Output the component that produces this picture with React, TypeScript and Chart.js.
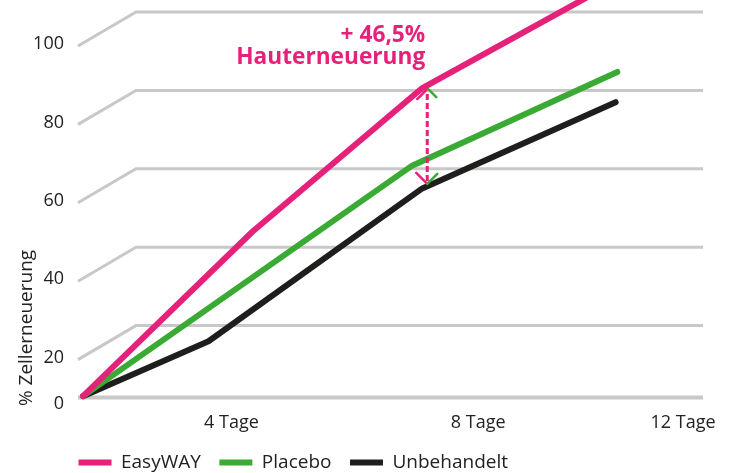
import React, { useEffect, useRef } from "react";
import { Chart, registerables } from "chart.js";

Chart.register(...registerables);

// ---- data ----
const seriesNames = ["EasyWAY", "Placebo", "Unbehandelt"];
const easyDays = [0, 4, 8, 12.6];
const easyValues = [2, 44, 80.6, 108];
const placeboDays = [0, 7.76, 12.6];
const placeboValues = [2, 60.8, 84.7];
const untreatedDays = [0, 2.96, 8, 12.56];
const untreatedValues = [2, 16, 55, 77];

const yTickValues = [0, 20, 40, 60, 80, 100];
const xTickLabels = ["4 Tage", "8 Tage", "12 Tage"];
const xTickDays = [3.5, 9.32, 14.15];
const yTitle = "% Zellerneuerung";
const annotationLines = ["+ 46,5%", "Hauterneuerung"];
const annotationDay = 8;

const PINK = "#e6217a";
const GREEN = "#3aaa35";
const BLACK = "#1e1e1c";
const GRID = "#c8c8c8";
const TEXT = "#222222";
const FONT = '"Open Sans", sans-serif';

const toPoints = (xs: number[], ys: number[]) => xs.map((x, i) => ({ x, y: ys[i] }));

const perspectivePlugin = {
  id: "perspective",
  beforeDatasetsDraw(chart: any) {
    const { ctx, chartArea, scales } = chart;
    const y = scales.y;
    ctx.save();
    ctx.strokeStyle = GRID;
    ctx.lineCap = "butt";
    ctx.lineJoin = "miter";
    for (const v of yTickValues) {
      const py = y.getPixelForValue(v);
      ctx.beginPath();
      if (v === 0) {
        ctx.lineWidth = 4;
        ctx.moveTo(chartArea.left, py - 6.5);
        ctx.lineTo(chartArea.right, py - 6.5);
      } else {
        ctx.lineWidth = 3;
        ctx.moveTo(chartArea.left, py + 34);
        ctx.lineTo(chartArea.left + 58, py);
        ctx.lineTo(chartArea.right, py);
      }
      ctx.stroke();
    }
    ctx.fillStyle = TEXT;
    ctx.font = `18px ${FONT}`;
    ctx.textAlign = "right";
    ctx.textBaseline = "middle";
    for (const v of yTickValues) {
      const py = y.getPixelForValue(v);
      ctx.fillText(String(v), chartArea.left - 14, v === 0 ? py : py + 32);
    }
    ctx.font = `19px ${FONT}`;
    ctx.translate(27, chartArea.bottom - 76);
    ctx.rotate(-Math.PI / 2);
    ctx.textAlign = "center";
    ctx.fillText(yTitle, 0, 0);
    ctx.restore();
  },
  afterDatasetsDraw(chart: any) {
    const { ctx, scales } = chart;
    const x = scales.x.getPixelForValue(annotationDay) + 5;
    const yTop = scales.y.getPixelForValue(easyValues[2]);
    const yBot = scales.y.getPixelForValue(untreatedValues[2]);
    ctx.save();
    // dashed connector
    ctx.strokeStyle = PINK;
    ctx.lineWidth = 3;
    ctx.setLineDash([6, 3]);
    ctx.beginPath();
    ctx.moveTo(x, yTop + 6);
    ctx.lineTo(x, yBot - 6);
    ctx.stroke();
    ctx.setLineDash([]);
    ctx.lineWidth = 2.5;
    ctx.lineCap = "round";
    // top arrowhead
    const tTop = yTop + 1;
    ctx.strokeStyle = PINK;
    ctx.beginPath();
    ctx.moveTo(x - 10, tTop + 10);
    ctx.lineTo(x, tTop);
    ctx.stroke();
    ctx.strokeStyle = GREEN;
    ctx.beginPath();
    ctx.moveTo(x + 1, tTop);
    ctx.lineTo(x + 9, tTop + 8);
    ctx.stroke();
    // bottom arrowhead
    const tBot = yBot - 4.6;
    ctx.strokeStyle = PINK;
    ctx.beginPath();
    ctx.moveTo(x - 11, tBot - 11);
    ctx.lineTo(x, tBot);
    ctx.stroke();
    ctx.strokeStyle = GREEN;
    ctx.beginPath();
    ctx.moveTo(x, tBot);
    ctx.lineTo(x + 10, tBot - 10);
    ctx.stroke();
    // text
    ctx.fillStyle = PINK;
    ctx.font = `bold 22.7px ${FONT}`;
    ctx.textAlign = "right";
    ctx.textBaseline = "alphabetic";
    ctx.fillText(annotationLines[0], x - 2, yTop - 46);
    ctx.fillText(annotationLines[1], x - 2, yTop - 24);
    ctx.restore();
  },
};

export default function App() {
  const canvasRef = useRef<HTMLCanvasElement | null>(null);

  useEffect(() => {
    if (!canvasRef.current) return;
    Chart.defaults.font.family = FONT;
    const lineStyle = (color: string) => ({
      borderColor: color,
      backgroundColor: color,
      borderWidth: 6,
      pointRadius: 0,
      pointHoverRadius: 0,
      borderCapStyle: "round" as const,
      borderJoinStyle: "round" as const,
      tension: 0,
      clip: false as const,
    });
    const chart = new Chart(canvasRef.current, {
      type: "line",
      data: {
        datasets: [
          { label: seriesNames[0], data: toPoints(easyDays, easyValues), ...lineStyle(PINK) },
          { label: seriesNames[1], data: toPoints(placeboDays, placeboValues), ...lineStyle(GREEN) },
          { label: seriesNames[2], data: toPoints(untreatedDays, untreatedValues), ...lineStyle(BLACK) },
        ],
      },
      options: {
        animation: false,
        responsive: false,
        layout: { padding: { left: 60, right: 29, top: 12, bottom: -9 } },
        scales: {
          x: {
            type: "linear",
            min: -0.118,
            max: 14.62,
            afterBuildTicks: (s: any) => {
              s.ticks = xTickDays.map((v) => ({ value: v }));
            },
            afterFit: (s: any) => {
              s.height = 30.5;
            },
            ticks: {
              callback: (_v: any, i: number) => xTickLabels[i],
              font: { family: FONT, size: 18 },
              color: TEXT,
              padding: 8,
              maxRotation: 0,
              autoSkip: false,
            },
            grid: { display: false, drawTicks: false },
            border: { display: false },
          },
          y: {
            min: 0,
            max: 100,
            afterFit: (s: any) => {
              s.width = 18;
            },
            ticks: { display: false },
            grid: { display: false, drawTicks: false },
            border: { display: false },
          },
        },
        plugins: {
          legend: {
            position: "bottom",
            align: "start",
            labels: {
              usePointStyle: true,
              pointStyle: "line",
              pointStyleWidth: 33,
              padding: 18.5,
              font: { family: FONT, size: 19 },
              color: TEXT,
            },
          },
          tooltip: { enabled: false },
        },
      },
      plugins: [perspectivePlugin],
    } as any);
    return () => chart.destroy();
  }, []);

  return (
    <div style={{ position: "fixed", left: 0, top: 0, width: 732, height: 473, background: "#fff" }}>
      <canvas ref={canvasRef} width={732} height={473} />
    </div>
  );
}
